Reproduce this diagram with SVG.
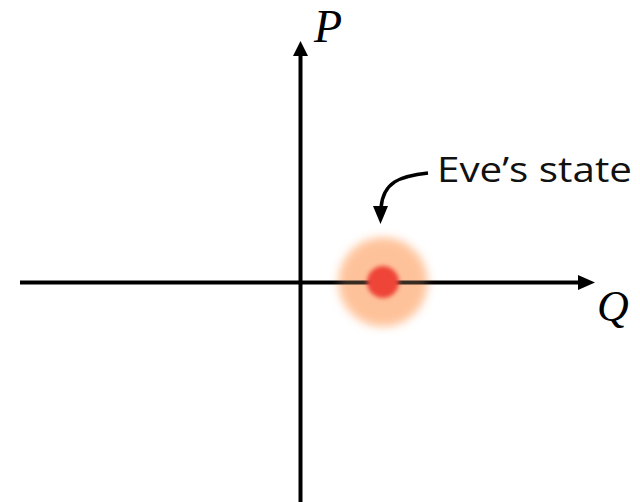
<svg xmlns="http://www.w3.org/2000/svg" width="640" height="502" viewBox="0 0 640 502">
<defs>
<style>
.axis{stroke:#000;stroke-width:4;fill:none}
.head{fill:#000}
.math{font-family:"Liberation Serif","DejaVu Serif",serif;font-style:italic;fill:#000}
.lbl{font-family:"Open Sans","Noto Sans",sans-serif;font-size:35px;fill:#111}
</style>
<filter id="haze" x="-50%" y="-50%" width="200%" height="200%">
<feGaussianBlur stdDeviation="5"/>
</filter>
<filter id="soft" x="-50%" y="-50%" width="200%" height="200%">
<feGaussianBlur stdDeviation="2"/>
</filter>
</defs>
<rect width="640" height="502" fill="#fff"/>
<g id="eve-glow">
<circle cx="383" cy="282" r="44" fill="#FEC29A" filter="url(#haze)"/>
</g>
<g id="connectors">
<line class="axis" x1="20" y1="282.5" x2="580" y2="282.5"/>
<polygon class="head" points="578,275 595,282.5 578,290"/>
<line class="axis" x1="300.5" y1="502" x2="300.5" y2="53"/>
<polygon class="head" points="293,56 300.5,41 308,56"/>
<path d="M428,173 C400,176 383,182 381,208" stroke="#000" stroke-width="3.5" fill="none"/>
<polygon class="head" points="373,206 388,206 380.5,224"/>
</g>
<g id="eve-state">
<circle cx="383" cy="282" r="44" fill="#FEC29A" filter="url(#haze)" opacity="0.22"/>
<circle cx="383" cy="282" r="16" fill="#EE4438" filter="url(#soft)"/>
</g>
<g id="label-P"><text class="math" x="314" y="42" font-size="46">P</text></g>
<g id="label-Q"><text class="math" x="597" y="321" font-size="44">Q</text></g>
<g id="label-eve"><text class="lbl" x="437" y="182" textLength="195" lengthAdjust="spacingAndGlyphs">Eve’s state</text></g>
</svg>
